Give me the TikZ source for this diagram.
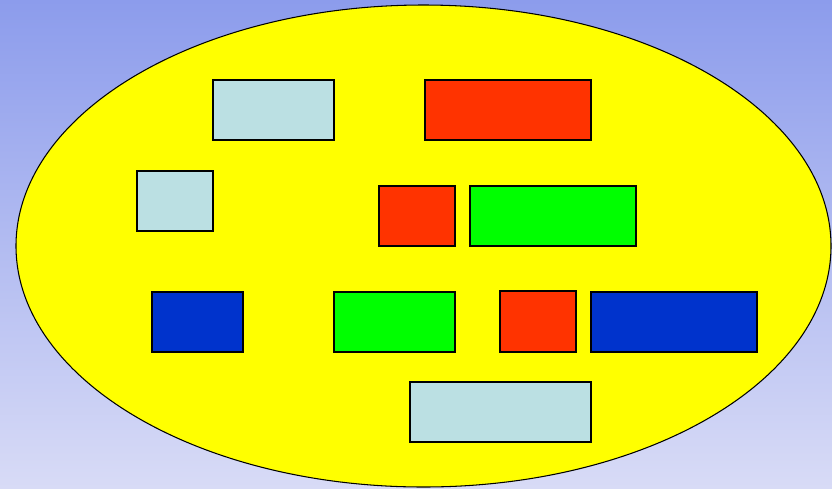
\documentclass[tikz,border=0pt]{standalone}
\usepackage{tikz}
\usetikzlibrary{shapes.geometric}
\definecolor{bgtop}{RGB}{140,156,236}
\definecolor{bgbottom}{RGB}{216,219,246}
\definecolor{ovalyellow}{RGB}{255,255,0}
\definecolor{lightbluebox}{RGB}{187,224,227}
\definecolor{redbox}{RGB}{255,51,0}
\definecolor{greenbox}{RGB}{0,255,0}
\definecolor{bluebox}{RGB}{0,51,204}
\tikzset{
  % filled blocks inside the oval
  block/.style={draw=black, line width=0.6pt},
  lbblock/.style={block, fill=lightbluebox},
  redblock/.style={block, fill=redbox},
  greenblock/.style={block, fill=greenbox},
  blueblock/.style={block, fill=bluebox}
}
\begin{document}
\begin{tikzpicture}[x=0.02cm, y=-0.02cm]

  % background
  \shade[top color=bgtop, bottom color=bgbottom] (0,0) rectangle (832,488);
  \useasboundingbox (0,0) rectangle (832,488);

  % oval
  \draw[fill=ovalyellow, line width=0.6pt] (423.5,246) ellipse [x radius=407.5, y radius=241];

  % row 1
  \draw[lbblock] (213,80) rectangle (334,140);
  \draw[redblock] (425,80) rectangle (591,140);

  % row 2
  \draw[lbblock] (137,171) rectangle (213,231);
  \draw[redblock] (379,186) rectangle (455,246);
  \draw[greenblock] (470,186) rectangle (636,246);

  % row 3
  \draw[blueblock] (152,292) rectangle (243,352);
  \draw[greenblock] (334,292) rectangle (455,352);
  \draw[redblock] (500,291) rectangle (576,352);
  \draw[blueblock] (591,292) rectangle (757,352);

  % row 4
  \draw[lbblock] (410,382) rectangle (591,442);

\end{tikzpicture}
\end{document}
